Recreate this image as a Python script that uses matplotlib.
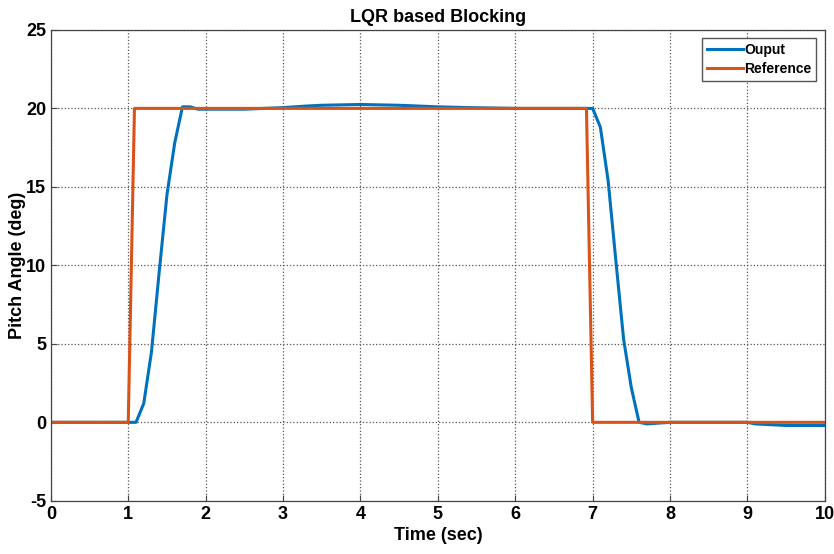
import matplotlib.pyplot as plt

# data
ref_t = [0, 1.0, 1.08, 6.92, 7.0, 10]
ref_y = [0, 0, 20, 20, 0, 0]

out_t = [0, 1.1, 1.2, 1.3, 1.4, 1.5, 1.6, 1.7, 1.8, 1.9, 2.0, 2.5, 3.0, 3.3,
         3.5, 4.0, 4.5, 5.0, 5.4, 6.0, 7.0, 7.1, 7.2, 7.3, 7.4, 7.5, 7.6, 7.7,
         8.0, 9.0, 9.1, 9.3, 9.5, 10]
out_y = [0, 0, 1.2, 4.5, 9.6, 14.5, 17.8, 20.1, 20.1, 19.95, 19.95, 19.95, 20.05, 20.15,
         20.2, 20.25, 20.2, 20.1, 20.05, 20.0, 20.0, 18.8, 15.4, 10.3, 5.3, 2.2, 0.0, -0.1,
         0.0, 0.0, -0.1, -0.15, -0.2, -0.2]

plt.rcParams['font.family'] = ['Liberation Sans', 'DejaVu Sans']
plt.rcParams['font.weight'] = 'bold'
plt.rcParams['axes.unicode_minus'] = False

fig = plt.figure(figsize=(8.34, 5.54), dpi=100)
ax = fig.add_axes([0.061, 0.096, 0.928, 0.850])

ax.plot(out_t, out_y, color='#0072BD', lw=2.2, label='Ouput')
ax.plot(ref_t, ref_y, color='#D95319', lw=2.2, label='Reference')

ax.set_xlim(0, 10)
ax.set_ylim(-5, 25)
ax.set_xticks(range(0, 11))
ax.set_yticks(range(-5, 26, 5))
ax.grid(True, linestyle=':', color='#555555', lw=0.9)
ax.tick_params(direction='in', labelsize=13, length=4, color='#444444')
for s in ax.spines.values():
    s.set_color('#444444')
    s.set_linewidth(0.9)

ax.set_title('LQR based Blocking', fontsize=13, fontweight='bold', pad=6)
ax.set_xlabel('Time (sec)', fontsize=13, fontweight='bold', labelpad=3)
ax.set_ylabel('Pitch Angle (deg)', fontsize=13, fontweight='bold')
ax.yaxis.set_label_coords(-0.032, 0.5)
leg = ax.legend(loc='upper right', fontsize=10, fancybox=False, framealpha=1,
                edgecolor='#555555', handlelength=2.6, handletextpad=0.1,
                borderpad=0.35, labelspacing=0.35, borderaxespad=0.6)

fig.savefig('out.png', dpi=100)
